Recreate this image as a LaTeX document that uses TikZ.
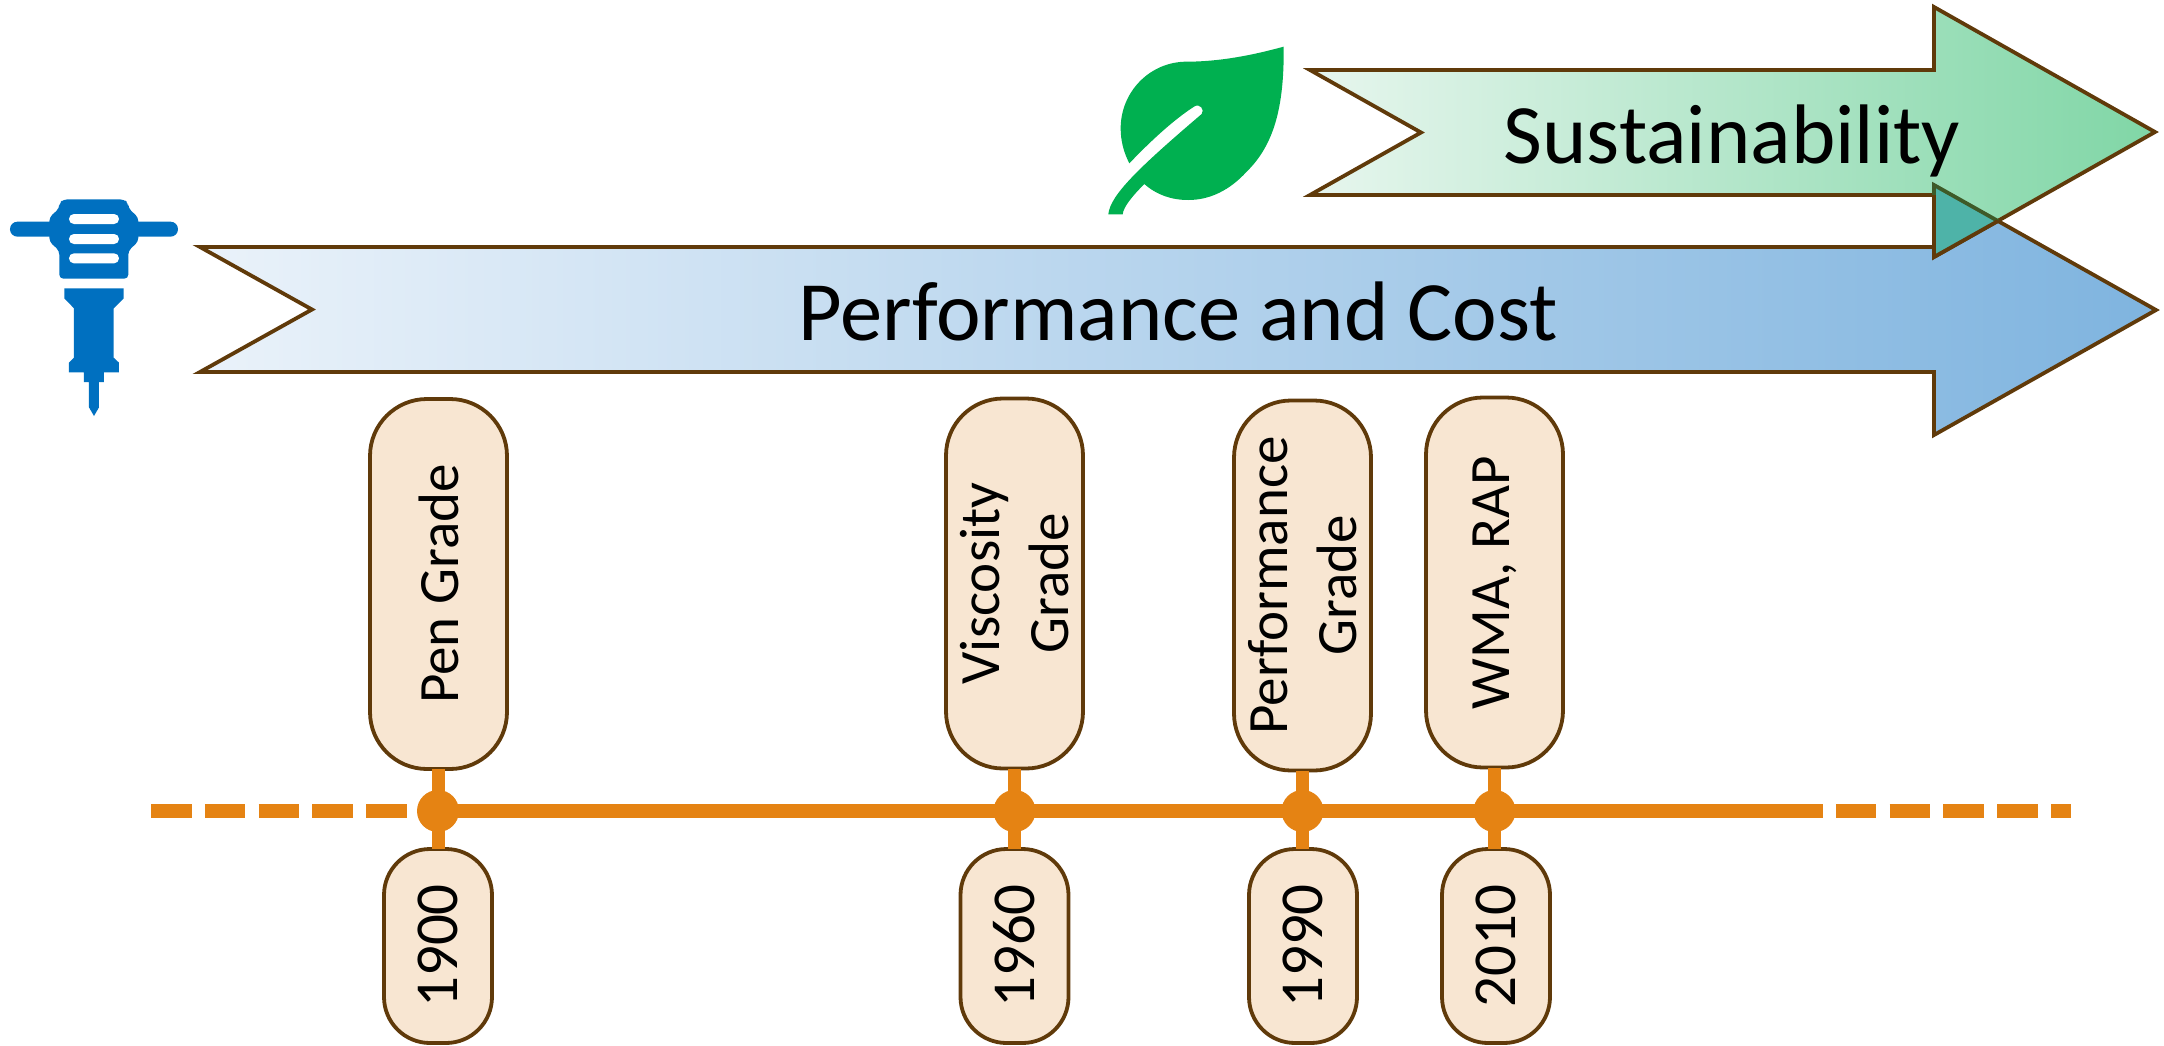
\documentclass[tikz,border=0pt]{standalone}
\usepackage{fontspec}
\setmainfont{Carlito}
\definecolor{brownline}{HTML}{603A0A}
\definecolor{pillfill}{HTML}{F8E6D2}
\definecolor{tl}{HTML}{E58313}
\definecolor{leafgreen}{HTML}{00B050}
\definecolor{hammerblue}{HTML}{0070C0}
\tikzset{
  pill/.style={draw=brownline,line width=3.8pt,fill=pillfill,rotate=90,inner sep=0pt,outer sep=0pt,align=center,
    font=\fontsize{57}{69.6}\selectfont},
  bigpill/.style={pill,rounded corners=57pt,minimum width=370pt,minimum height=137pt},
  yearpill/.style={pill,rounded corners=46pt,minimum width=194pt,minimum height=108pt,font=\fontsize{61}{72}\selectfont},
  dot/.style={circle,fill=tl,inner sep=0pt,minimum size=42pt},
  tline/.style={draw=tl,line width=13.5pt},
  stem/.style={draw=tl,line width=13pt},
  dashline/.style={tline,dash pattern=on 40.5pt off 13.3pt},
  band/.style={draw=brownline,line width=3.8pt},
  bandtext/.style={anchor=base,inner sep=0pt,font=\fontsize{84.5}{100}\selectfont},
}
\begin{document}
\begin{tikzpicture}[x=1pt,y=-1pt]
\useasboundingbox (0,0) rectangle (2164,1045);
% Performance arrow
\path[band,left color={rgb,255:red,234;green,242;blue,250},right color={rgb,255:red,127;green,180;blue,223}]
  (200,247) -- (1934,247) -- (1934,185) -- (2156,310) -- (1934,435) -- (1934,372) -- (200,372) -- (312,309.5) -- cycle;
% Sustainability arrow
\path[band,left color={rgb,255:red,231;green,246;blue,238},right color={rgb,255:red,128;green,214;blue,166}]
  (1310,70) -- (1934,70) -- (1934,7) -- (2155,132) -- (1934,257) -- (1934,195) -- (1310,195) -- (1421,132.5) -- cycle;
% overlap of the two arrow heads
\fill[fill={rgb,255:red,78;green,179;blue,168}] (1934,185) -- (1998,221) -- (1934,257) -- cycle;
\draw[line width=3.8pt,draw={rgb,255:red,62;green,90;blue,40}] (1934,195) -- (1934,185) -- (1998,221);
\draw[band] (1934,195) -- (1934,257) -- (1998,221);
\node[bandtext] (perf) at (1178,340) {Performance and Cost};
\node[bandtext] (sust) at (1732,163) {Sustainability};
% timeline
\coordinate (lstart) at (151,811);
\coordinate (lsolid) at (453,811);
\coordinate (rsolid) at (1782,811);
\coordinate (rend) at (2071,811);
\node[dot] (d1) at (438,811) {};
\node[dot] (d2) at (1014.5,811) {};
\node[dot] (d3) at (1302.5,811) {};
\node[dot] (d4) at (1494.5,811) {};
\draw[dashline] (lstart) -- (lsolid);
\draw[tline] (d1.center) -- (d2.center) -- (d3.center) -- (d4.center) -- (rsolid);
\draw[dashline] (rsolid) -- (rend);
% pills
\node[bigpill] (g1) at (438.5,584) {Pen Grade};
\node[bigpill] (g2) at (1014.5,583.5) {Viscosity\\Grade};
\node[bigpill] (g3) at (1302.5,585.5) {Performance\\Grade};
\node[bigpill] (g4) at (1494.5,582.5) {WMA, RAP};
\node[yearpill] (y1) at (438,946) {1900};
\node[yearpill] (y2) at (1014.5,946) {1960};
\node[yearpill] (y3) at (1303,946) {1990};
\node[yearpill] (y4) at (1496,946) {2010};
% stems
\foreach \d/\g/\y in {d1/g1/y1,d2/g2/y2,d3/g3/y3,d4/g4/y4}{
  \draw[stem] (\d.center |- \g.west) -- (\d.center);
  \draw[stem] (\d.center) -- (\d.center |- \y.east);
}
% jackhammer icon
\begin{scope}[x=.33333pt,y=-.33333pt,yshift=-180pt]
\fill[hammerblue,rounded corners=7.4pt] (30,125) rectangle (534,170);
\fill[hammerblue,rounded corners=12*.33333pt] (178,296) -- (178,212) -- (148,185) -- (148,112) -- (178,85) -- (178,70) -- (190,58) -- (372,58) -- (385,70) -- (385,85) -- (415,112) -- (415,185) -- (385,212) -- (385,296) -- cycle;
\fill[white,rounded corners=4.9pt] (207,102) rectangle (357,132);
\fill[white,rounded corners=4.9pt] (207,162) rectangle (357,192);
\fill[white,rounded corners=4.9pt] (207,220) rectangle (357,250);
\fill[hammerblue] (193,325) -- (371,325) -- (371,355) -- (341,385) -- (341,533) -- (357,548) -- (357,577) -- (312,577) -- (312,606) -- (297,606) -- (297,682) -- (282,708) -- (267,682) -- (267,606) -- (252,606) -- (252,577) -- (207,577) -- (207,548) -- (222,533) -- (222,385) -- (193,355) -- cycle;
\end{scope}
% leaf icon
\begin{scope}[x=.33333pt,y=-.33333pt,xshift=1090pt,yshift=-30pt]
\fill[leafgreen] (55,553) .. controls (60,495) and (150,410) .. (335,252)
  .. controls (345,240) and (330,218) .. (312,230)
  .. controls (250,270) and (180,335) .. (118,400)
  .. controls (100,365) and (92,330) .. (92,295)
  .. controls (92,185) and (180,95) .. (290,95)
  .. controls (390,95) and (490,75) .. (581,50)
  .. controls (583,230) and (552,345) .. (470,425)
  .. controls (420,480) and (360,510) .. (295,510)
  .. controls (245,510) and (200,495) .. (163,462)
  .. controls (130,495) and (100,530) .. (98,553) -- cycle;
\end{scope}
\end{tikzpicture}
\end{document}
